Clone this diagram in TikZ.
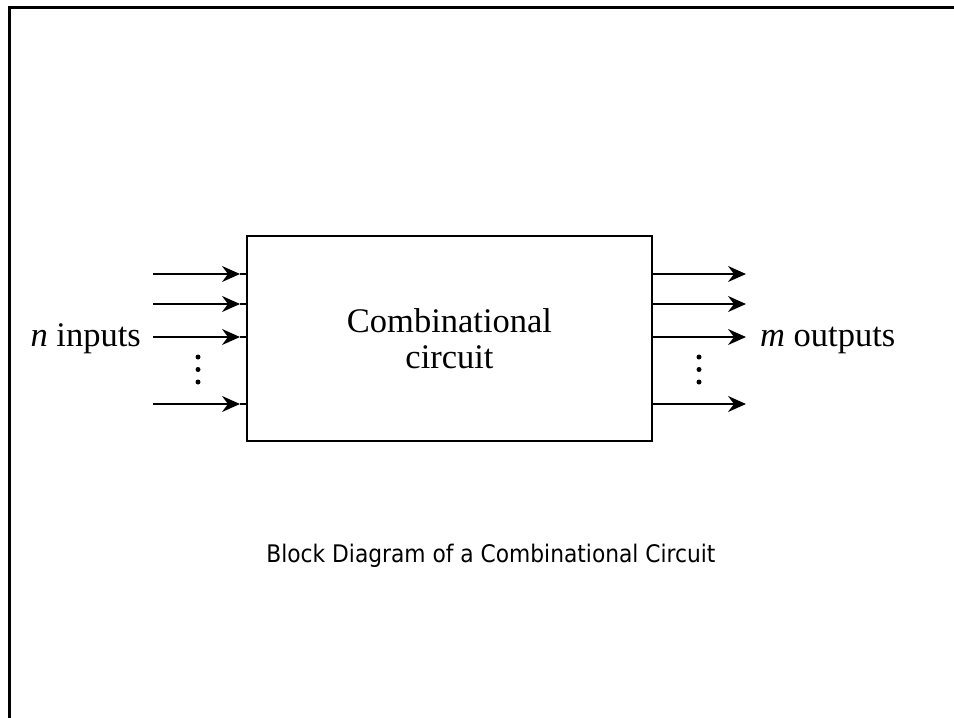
\documentclass[tikz,border=0pt]{standalone}
\usepackage{fontspec}
\setmainfont{Liberation Serif}
\newfontfamily\capfont{DejaVu Sans Condensed}
\usetikzlibrary{arrows.meta}
\begin{document}
\begin{tikzpicture}[x=1pt,y=-1pt,
  frameline/.style={line width=3pt, line cap=rect},
  wire/.style={line width=2pt},
  tip/.style={-{Stealth[length=18pt,width=16pt,inset=6pt]}, line width=2pt},
  lbl/.style={font=\fontsize{34.5}{36}\selectfont, inner sep=0pt},
  dotmark/.style={fill=black, draw=none, circle, minimum size=5pt, inner sep=0pt}
]
\useasboundingbox (0,0) rectangle (954,718);
% frame (top and left only)
\coordinate (fa) at (9.5,718);
\coordinate (fb) at (9.5,7.5);
\coordinate (fc) at (954,7.5);
\draw[frameline] (fa) -- (fb) -- (fc);
% block
\node[draw, line width=2pt, minimum width=405pt, minimum height=205pt, inner sep=0pt,
      align=center, font=\fontsize{34.5}{36}\selectfont] (cc) at (449.5,338.5)
      {Combinational\\circuit};
% inputs and outputs
\foreach \i/\y in {1/274, 2/304, 3/337, 4/404} {
  \coordinate (in\i) at (153,\y);
  \coordinate (it\i) at (240,\y);
  \coordinate (ie\i) at (cc.west |- in\i);
  \draw[wire] (it\i) -- (ie\i);
  \draw[tip] (in\i) -- (it\i);
  \coordinate (oe\i) at (cc.east |- in\i);
  \coordinate (ot\i) at (746,\y);
  \draw[tip] (oe\i) -- (ot\i);
}
% dots
\foreach \k/\y in {1/357, 2/369.5, 3/382} {
  \node[dotmark] (dl\k) at (198,\y) {};
  \node[dotmark] (dr\k) at (699,\y) {};
}
% labels
\node[lbl, anchor=base east] (nin) at (141,346) {\textit{n} inputs};
\node[lbl, anchor=base west] (mout) at (760,346) {\textit{m} outputs};
% caption
\node[anchor=base, inner sep=0pt, font=\capfont\fontsize{24.2}{28}\selectfont] (cap) at (491,562)
  {Block Diagram of a Combinational Circuit};
\end{tikzpicture}
\end{document}
